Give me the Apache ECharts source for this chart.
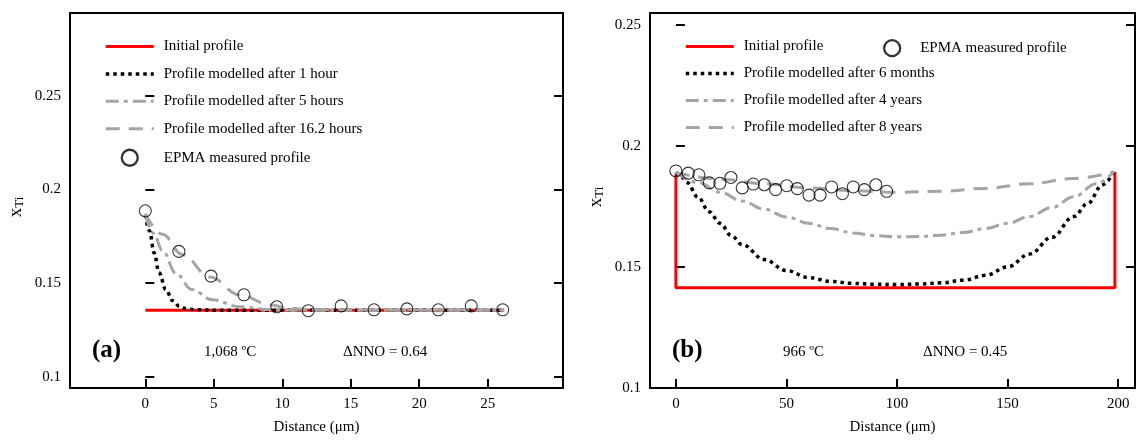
<!DOCTYPE html>
<html>
<head>
<meta charset="utf-8">
<script src="https://cdn.jsdelivr.net/npm/echarts@6/dist/echarts.min.js"></script>
<style>
html, body { margin: 0; padding: 0; background: #fff; }
#chart { width: 1137px; height: 440px; }
</style>
</head>
<body>
<div id="chart"></div>
<script>
// ---- panel (a), 1,068 ºC ----
var aEpmaX = [0, 2.45, 4.8, 7.2, 9.6, 11.9, 14.3, 16.7, 19.1, 21.4, 23.8, 26.1];
var aEpmaY = [0.1886, 0.1669, 0.1537, 0.1437, 0.1373, 0.1352, 0.1378, 0.1357, 0.1362, 0.1357, 0.1378, 0.1357];
var aInitX = [0, 26.2];
var aInitY = [0.1355, 0.1355];
var aHour1X = [0, 0.3, 0.65, 1.0, 1.5, 2.0, 2.5, 3.0, 3.7, 5, 26.2];
var aHour1Y = [0.1865, 0.178, 0.166, 0.1555, 0.1465, 0.1405, 0.1375, 0.1362, 0.1357, 0.1355, 0.1355];
var aHour5X = [0, 0.6, 1.24, 2.26, 3.4, 4.9, 6.9, 9.1, 11, 26.2];
var aHour5Y = [0.1865, 0.1765, 0.1675, 0.155, 0.1465, 0.141, 0.1373, 0.1358, 0.1355, 0.1355];
var aHour16X = [0, 1.25, 2.7, 4.7, 6.9, 9.1, 10.5, 12, 14, 26.2];
var aHour16Y = [0.187, 0.176, 0.1653, 0.1532, 0.1437, 0.1384, 0.1365, 0.1358, 0.1356, 0.1356];
var aXTicks = [0, 5, 10, 15, 20, 25];
var aYTicks = [0.1, 0.15, 0.2, 0.25];

// ---- panel (b), 966 ºC ----
var bEpmaX = [0, 5.6, 10.4, 15.1, 19.9, 24.9, 30, 35, 40, 45.1, 50.1, 54.9, 60.2, 65.2, 70.4, 75.3, 80.2, 85.2, 90.4, 95.3];
var bEpmaY = [0.1896, 0.1887, 0.188, 0.1847, 0.1845, 0.1869, 0.1826, 0.1842, 0.1839, 0.1819, 0.1835, 0.1823, 0.1796, 0.1796, 0.183, 0.1802, 0.183, 0.1819, 0.1839, 0.1812];
var bInitX = [0, 0, 198.5, 198.5];
var bInitY = [0.188, 0.1414, 0.1414, 0.1893];
var bMonth6X = [0, 3, 5, 10, 15, 20, 25, 30, 40, 50, 60, 70, 80, 90, 100, 110, 120, 130, 140, 150, 160, 170, 180, 186, 193, 198];
var bMonth6Y = [0.189, 0.1868, 0.1848, 0.1788, 0.1728, 0.168, 0.163, 0.1592, 0.153, 0.1485, 0.1456, 0.144, 0.1432, 0.1428, 0.1427, 0.1429, 0.1434, 0.1445, 0.1465, 0.15, 0.1553, 0.1622, 0.1708, 0.176, 0.1839, 0.1893];
var bYear4X = [0, 10, 20, 30, 40, 50, 60, 70, 80, 90, 100, 110, 120, 130, 140, 150, 160, 170, 180, 190, 198];
var bYear4Y = [0.189, 0.1848, 0.1808, 0.1772, 0.1738, 0.1706, 0.168, 0.1658, 0.164, 0.1629, 0.1624, 0.1625, 0.1631, 0.1642, 0.1658, 0.168, 0.1708, 0.1745, 0.179, 0.1843, 0.1893];
var bYear8X = [0, 20, 40, 60, 80, 100, 120, 140, 160, 180, 198];
var bYear8Y = [0.189, 0.1862, 0.1843, 0.1826, 0.1814, 0.1808, 0.1812, 0.1824, 0.1843, 0.1865, 0.1893];
var bXTicks = [0, 50, 100, 150, 200];
var bYTicks = [0.1, 0.15, 0.2, 0.25];
var bYTicksRight = [0.15, 0.2, 0.25];

function pairs(xs, ys) {
  return xs.map(function (x, i) { return [x, ys[i]]; });
}

var FONT = "Liberation Serif";
var GREY = "#a5a5a5";
var styles = {
  init: { color: "#ff0000", width: 3, type: "solid" },
  dot: { color: "#000", width: 3.5, type: [3.5, 4], cap: "butt" },
  dashdot: { color: GREY, width: 3, type: [13, 5, 4, 5] },
  dash: { color: GREY, width: 3, type: [14, 9] }
};

function lineSeries(name, data, st, xi, smooth) {
  return {
    name: name,
    type: "line",
    xAxisIndex: xi,
    yAxisIndex: xi * 2,
    data: data,
    symbol: "none",
    showSymbol: false,
    smooth: smooth ? 0.4 : false,
    smoothMonotone: "x",
    lineStyle: st,
    itemStyle: { color: st.color },
    z: 2
  };
}

function epmaSeries(data, xi) {
  return {
    name: "EPMA measured profile",
    type: "scatter",
    xAxisIndex: xi,
    yAxisIndex: xi * 2,
    data: data,
    symbol: "circle",
    symbolSize: 12,
    itemStyle: { color: "rgba(255,255,255,0)", borderColor: "#000", borderWidth: 1.1 },
    z: 5
  };
}

function fmt(v) {
  return String(Math.round(v * 100) / 100);
}

function xAxis(gi, min, max, ticks) {
  return {
    type: "value", gridIndex: gi, min: min, max: max,
    axisLine: { show: false },
    splitLine: { show: false },
    axisTick: { inside: true, length: 9, lineStyle: { color: "#000", width: 2 }, customValues: ticks },
    axisLabel: { color: "#000", fontFamily: FONT, fontSize: 15, margin: 9, customValues: ticks, formatter: fmt },
    name: "Distance (μm)", nameLocation: "middle", nameGap: 32,
    nameTextStyle: { color: "#000", fontFamily: FONT, fontSize: 15 }
  };
}

function yAxis(gi, min, max, ticks, right) {
  return {
    type: "value", gridIndex: gi, min: min, max: max,
    position: right ? "right" : "left",
    axisLine: { show: false },
    splitLine: { show: false },
    axisTick: { inside: true, length: 9, lineStyle: { color: "#000", width: 2 }, customValues: ticks },
    axisLabel: { show: !right, color: "#000", fontFamily: FONT, fontSize: 15, margin: 9, customValues: ticks, formatter: fmt }
  };
}

var legendText = { color: "#000", fontFamily: FONT, fontSize: 15, padding: [0, 0, 0, 5] };

// line legend icons: hide the circle echarts adds in the middle of the line
function lineItem(name) {
  return { name: name, itemStyle: { opacity: 0 } };
}
var epmaItem = { name: "EPMA measured profile", itemStyle: { borderWidth: 2.3 } };

function label(x, y, text, size, bold) {
  return {
    type: "text", x: x, y: y,
    style: { text: text, fill: "#000", font: (bold ? "bold " : "") + size + "px '" + FONT + "'", verticalAlign: "middle" }
  };
}

function yName(x, y) {
  return {
    type: "text", x: x, y: y, rotation: Math.PI / 2,
    style: {
      text: "{a|x}{b|Ti}", align: "center", verticalAlign: "middle",
      rich: {
        a: { fontFamily: FONT, fontSize: 19, fill: "#000" },
        b: { fontFamily: FONT, fontSize: 13, fill: "#000", padding: [7, 0, 0, 0] }
      }
    }
  };
}

var chart = echarts.init(document.getElementById("chart"));
chart.setOption({
  animation: false,
  backgroundColor: "#fff",
  grid: [
    { left: 70, top: 13, width: 493, height: 379, show: true, borderColor: "#000", borderWidth: 2 },
    { left: 650, top: 13, width: 485, height: 379, show: true, borderColor: "#000", borderWidth: 2 }
  ],
  xAxis: [
    xAxis(0, -5.5, 30.5, aXTicks),
    xAxis(1, -11.7, 207.6, bXTicks)
  ],
  yAxis: [
    yAxis(0, 0.0939, 0.2943, aYTicks, false),
    yAxis(0, 0.0939, 0.2943, aYTicks, true),
    yAxis(1, 0.1, 0.2548, bYTicks, false),
    yAxis(1, 0.1, 0.2548, bYTicksRight, true)
  ],
  legend: [
    {
      orient: "vertical", left: 104, top: 39, padding: 0,
      itemWidth: 48, itemHeight: 16, itemGap: 12.4,
      lineStyle: { width: "inherit" },
      textStyle: legendText,
      data: [
        lineItem("Initial profile"),
        lineItem("Profile modelled after 1 hour"),
        lineItem("Profile modelled after 5 hours"),
        lineItem("Profile modelled after 16.2 hours"),
        epmaItem
      ]
    },
    {
      orient: "vertical", left: 684, top: 39, padding: 0,
      itemWidth: 48, itemHeight: 16, itemGap: 12,
      lineStyle: { width: "inherit" },
      textStyle: legendText,
      data: [
        lineItem("Initial profile"),
        lineItem("Profile modelled after 6 months"),
        lineItem("Profile modelled after 4 years"),
        lineItem("Profile modelled after 8 years")
      ]
    },
    {
      orient: "vertical", left: 883, top: 39, padding: 0,
      itemWidth: 36, itemHeight: 16,
      textStyle: legendText,
      data: [epmaItem]
    }
  ],
  graphic: [
    label(92, 351, "(a)", 25, true),
    label(204, 352, "1,068 ºC", 15, false),
    label(343, 352, "ΔNNO = 0.64", 15, false),
    label(672, 351, "(b)", 25, true),
    label(783, 352, "966 ºC", 15, false),
    label(923, 352, "ΔNNO = 0.45", 15, false),
    yName(16, 207),
    yName(596, 197)
  ],
  series: [
    lineSeries("Initial profile", pairs(aInitX, aInitY), styles.init, 0, false),
    lineSeries("Profile modelled after 1 hour", pairs(aHour1X, aHour1Y), styles.dot, 0, true),
    lineSeries("Profile modelled after 5 hours", pairs(aHour5X, aHour5Y), styles.dashdot, 0, true),
    lineSeries("Profile modelled after 16.2 hours", pairs(aHour16X, aHour16Y), styles.dash, 0, true),
    epmaSeries(pairs(aEpmaX, aEpmaY), 0),
    lineSeries("Initial profile", pairs(bInitX, bInitY), styles.init, 1, false),
    lineSeries("Profile modelled after 6 months", pairs(bMonth6X, bMonth6Y), styles.dot, 1, true),
    lineSeries("Profile modelled after 4 years", pairs(bYear4X, bYear4Y), styles.dashdot, 1, true),
    lineSeries("Profile modelled after 8 years", pairs(bYear8X, bYear8Y), styles.dash, 1, true),
    epmaSeries(pairs(bEpmaX, bEpmaY), 1)
  ]
});
</script>
</body>
</html>
